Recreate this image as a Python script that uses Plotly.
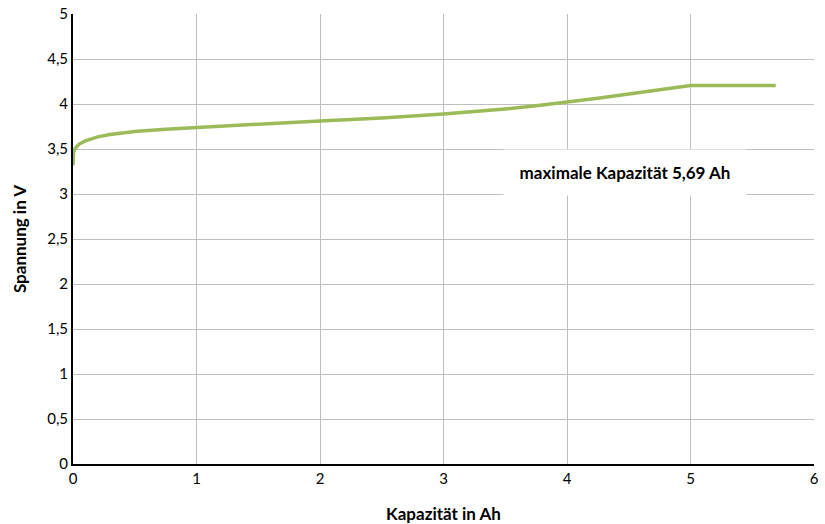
import plotly.graph_objects as go

kapazitaet = [0.0, 0.0, 0.005, 0.02, 0.05, 0.1, 0.15, 0.2, 0.3, 0.4, 0.5, 0.75, 1.0, 1.5, 2.0, 2.5, 3.0, 3.25, 3.5, 3.75, 4.0, 4.25, 4.5, 4.75, 4.95, 5.0, 5.69]
spannung = [3.32, 3.42, 3.47, 3.51, 3.555, 3.59, 3.615, 3.635, 3.66, 3.68, 3.695, 3.72, 3.74, 3.775, 3.81, 3.845, 3.89, 3.915, 3.945, 3.98, 4.02, 4.065, 4.11, 4.155, 4.20, 4.205, 4.205]

x_ticks = [0, 1, 2, 3, 4, 5, 6]
y_ticks = [0, 0.5, 1, 1.5, 2, 2.5, 3, 3.5, 4, 4.5, 5]

FONT = "Lato, Open Sans, sans-serif"

fig = go.Figure()
fig.add_trace(go.Scatter(
    x=kapazitaet, y=spannung, mode="lines",
    line=dict(color="#9BBB59", width=3.5, shape="linear"),
    showlegend=False,
))

fig.add_annotation(
    x=4.47, y=3.24, xref="x", yref="y",
    text="<b>maximale Kapazität 5,69 Ah</b>",
    showarrow=False, bgcolor="white",
    width=242, height=45, borderpad=0,
    font=dict(family=FONT, size=17, color="black"),
)

fig.update_layout(
    width=825, height=524,
    margin=dict(l=73, r=11, t=14, b=60, autoexpand=False),
    paper_bgcolor="white", plot_bgcolor="white",
    separators=",.",
    font=dict(family=FONT, size=15, color="black"),
)
fig.update_xaxes(
    range=[0, 6], tickvals=x_ticks, showgrid=True, gridcolor="#BFBFBF", gridwidth=1,
    showline=True, linecolor="black", linewidth=2, ticks="", zeroline=False,
    tickfont=dict(size=15), automargin=False,
    title=dict(text="<b>Kapazität in Ah</b>", font=dict(size=17), standoff=22),
)
fig.update_yaxes(
    range=[0, 5], tickvals=y_ticks, showgrid=True, gridcolor="#BFBFBF", gridwidth=1,
    showline=True, linecolor="black", linewidth=2, ticks="", zeroline=False,
    tickfont=dict(size=15), automargin=False,
    title=dict(text="<b>Spannung in V</b>", font=dict(size=17), standoff=16),
)

fig.write_html("out.html", config={"displayModeBar": False},
               post_script="document.body.style.margin='0';")
